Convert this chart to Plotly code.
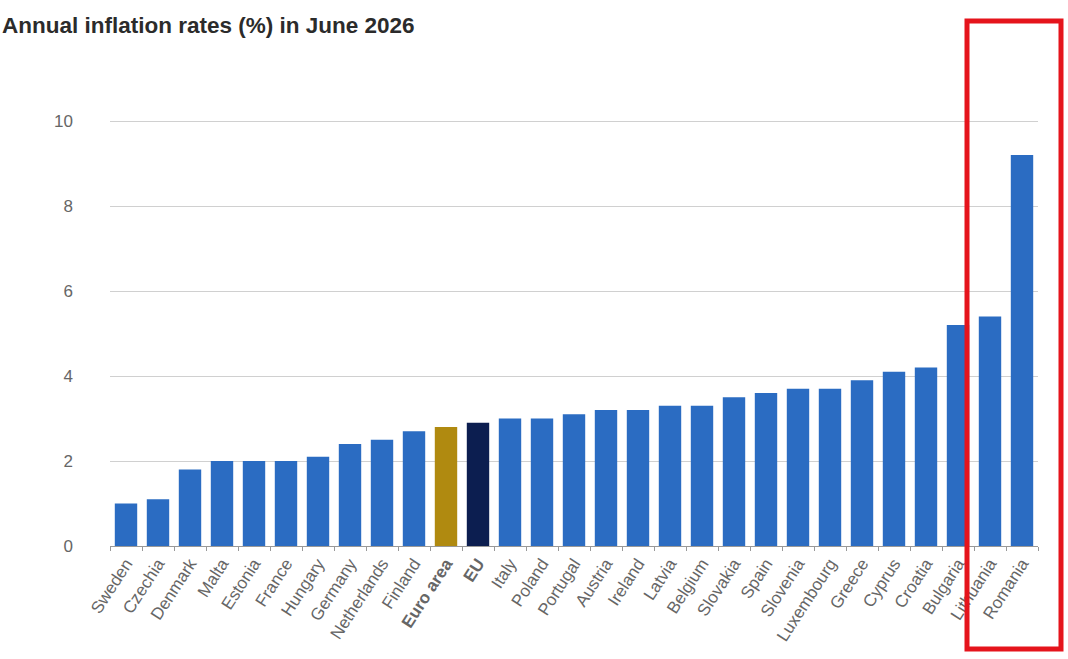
import plotly.graph_objects as go

countries = ["Sweden", "Czechia", "Denmark", "Malta", "Estonia", "France", "Hungary",
             "Germany", "Netherlands", "Finland", "Euro area", "EU", "Italy", "Poland",
             "Portugal", "Austria", "Ireland", "Latvia", "Belgium", "Slovakia", "Spain",
             "Slovenia", "Luxembourg", "Greece", "Cyprus", "Croatia", "Bulgaria",
             "Lithuania", "Romania"]
rates = [1.0, 1.1, 1.8, 2.0, 2.0, 2.0, 2.1, 2.4, 2.5, 2.7, 2.8, 2.9, 3.0, 3.0,
         3.1, 3.2, 3.2, 3.3, 3.3, 3.5, 3.6, 3.7, 3.7, 3.9, 4.1, 4.2, 5.2, 5.4, 9.2]
y_ticks = [0, 2, 4, 6, 8, 10]

BLUE = "#2B6CC2"
GOLD = "#B08A10"
NAVY = "#0C1E50"
colors = [GOLD if c == "Euro area" else NAVY if c == "EU" else BLUE for c in countries]
ticktext = [f"<b>{c}</b>" if c in ("Euro area", "EU") else c for c in countries]

W, H = 1068, 659
L, R, T, B = 110, 30, 95, 113
pw, ph = W - L - R, H - T - B

fig = go.Figure(go.Bar(x=countries, y=rates, marker=dict(color=colors, line=dict(width=0)),
                       width=0.7))

def px_x(p):
    return (p - L) / pw

def px_y(p):
    return (H - B - p) / ph

fig.add_shape(type="rect", xref="paper", yref="paper",
              x0=px_x(967), x1=px_x(1061), y0=px_y(649), y1=px_y(21),
              line=dict(color="#E5141C", width=5), fillcolor="rgba(0,0,0,0)", layer="above")

fig.update_layout(
    width=W, height=H,
    margin=dict(l=L, r=R, t=T, b=B, autoexpand=False),
    paper_bgcolor="white", plot_bgcolor="white",
    font=dict(family="Liberation Sans, Arial, sans-serif", color="#666666"),
    title=dict(text="<b>Annual inflation rates (%) in June 2026</b>", x=2 / W, xref="container",
               xanchor="left", y=1 - 25 / H, yanchor="middle",
               font=dict(size=22.5, color="#2b2b2b")),
    showlegend=False,
)

fig.update_xaxes(tickmode="array", tickvals=countries, ticktext=ticktext, tickangle=-57,
                 tickfont=dict(size=17, color="#666666"), automargin=False,
                 showline=True, linecolor="#999999", linewidth=1,
                 ticks="outside", tickson="boundaries", ticklen=4, tickcolor="#999999",
                 showgrid=False, range=[-0.5, len(countries) - 0.5])
fig.update_yaxes(range=[0, (H - B - T) / 42.5], tickvals=y_ticks, automargin=False,
                 tickfont=dict(size=17, color="#666666"),
                 showgrid=True, gridcolor="#d0d0d0", gridwidth=1,
                 zeroline=False, showline=False, ticks="", ticklabelstandoff=36)

fig.write_html("out.html")
